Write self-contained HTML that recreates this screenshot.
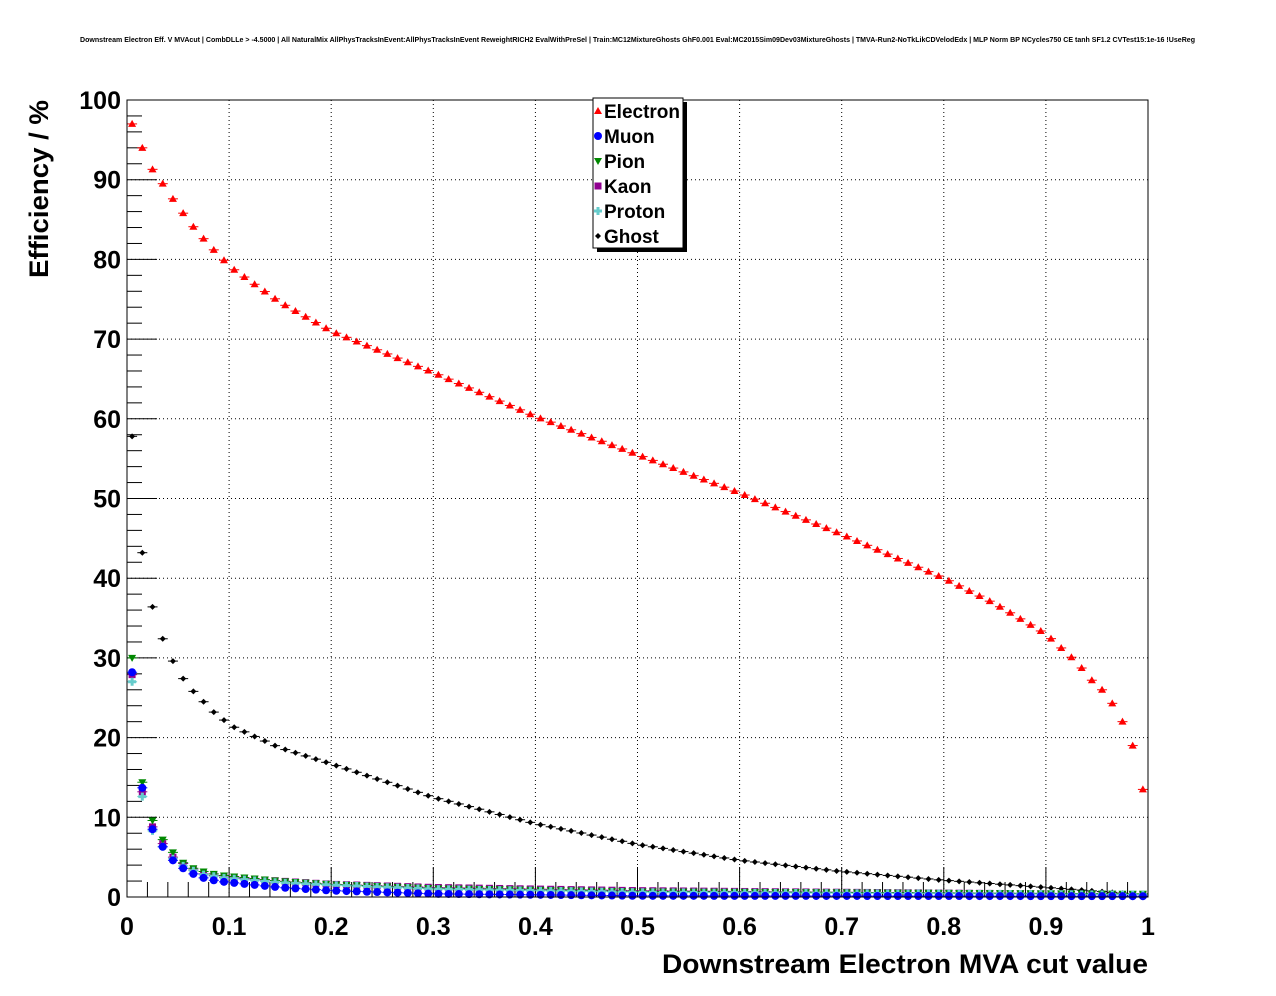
<!DOCTYPE html>
<html><head><meta charset="utf-8"><style>body{margin:0;background:#fff}svg{display:block}</style></head>
<body>
<svg id="s" width="1276" height="996" xmlns="http://www.w3.org/2000/svg" font-family="Liberation Sans, sans-serif">
<rect width="1276" height="996" fill="#fff"/>
<text x="80" y="42" font-size="7" font-weight="bold" textLength="1115" lengthAdjust="spacingAndGlyphs">Downstream Electron Eff. V MVAcut | CombDLLe &gt; -4.5000 | All NaturalMix AllPhysTracksInEvent:AllPhysTracksInEvent ReweightRICH2 EvalWithPreSel | Train:MC12MixtureGhosts GhF0.001 Eval:MC2015Sim09Dev03MixtureGhosts | TMVA-Run2-NoTkLikCDVelodEdx | MLP Norm BP NCycles750 CE tanh SF1.2 CVTest15:1e-16 !UseReg</text>
<g id="g"></g>
<rect x="127" y="100" width="1021" height="797" fill="none" stroke="#000" stroke-width="1"/>
<text x="1148" y="973" font-size="27" font-weight="bold" text-anchor="end" textLength="486" lengthAdjust="spacingAndGlyphs">Downstream Electron MVA cut value</text>
<text transform="translate(48,278) rotate(-90)" font-size="27" font-weight="bold" textLength="178" lengthAdjust="spacingAndGlyphs">Efficiency / %</text>
<rect x="597" y="102" width="90" height="150" fill="#000"/>
<rect x="593" y="98" width="90" height="150" fill="#fff" stroke="#000"/>
<g font-size="19" font-weight="bold">
<text x="604" y="118">Electron</text><text x="604" y="143">Muon</text><text x="604" y="168">Pion</text>
<text x="604" y="193">Kaon</text><text x="604" y="218">Proton</text><text x="604" y="243">Ghost</text>
</g>
<g id="lg"></g>
</svg>
<script>
const g=document.getElementById('g');let h='';
const X=v=>127+v*1021,Y=v=>897-v*7.97;
for(let i=1;i<10;i++){h+=`<line x1="${X(i/10)}" y1="100" x2="${X(i/10)}" y2="897" stroke="#000" stroke-dasharray="1,3"/>`;}
for(let i=1;i<10;i++){h+=`<line x1="127" y1="${Y(i*10)}" x2="1148" y2="${Y(i*10)}" stroke="#000" stroke-dasharray="1,3"/>`;}
for(let i=0;i<=50;i++){const l=i%5==0?30:15;h+=`<line x1="${X(i/50)}" y1="897" x2="${X(i/50)}" y2="${897-l}" stroke="#000"/>`;
 h+=`<line x1="127" y1="${Y(i*2)}" x2="${127+l}" y2="${Y(i*2)}" stroke="#000"/>`;}
for(let i=0;i<=10;i++){h+=`<text x="${X(i/10)}" y="935" font-size="25" font-weight="bold" text-anchor="middle">${i==0?'0':i==10?'1':'0.'+i}</text>`;
 h+=`<text x="121" y="${Y(i*10)+9}" font-size="25" font-weight="bold" text-anchor="end">${i*10}</text>`;}
function interp(pts,x){for(let i=0;i<pts.length-1;i++){if(x<=pts[i+1][0]){const t=(x-pts[i][0])/(pts[i+1][0]-pts[i][0]);return pts[i][1]+t*(pts[i+1][1]-pts[i][1]);}}return pts[pts.length-1][1];}
const E=[[.005,97],[.015,94],[.025,91.3],[.035,89.5],[.045,87.6],[.055,85.8],[.065,84.1],[.075,82.6],[.085,81.2],[.095,79.9],[.105,78.7],[.15,74.6],[.2,71],[.3,65.8],[.4,60.3],[.5,55.5],[.6,50.7],[.7,45.5],[.8,40],[.85,36.8],[.9,33],[.93,29.5],[.945,27.2],[.955,26],[.965,24.3],[.975,22],[.985,19],[.995,13.5]];
const G=[[.005,57.8],[.015,43.2],[.025,36.4],[.035,32.4],[.045,29.6],[.055,27.4],[.065,25.8],[.075,24.5],[.085,23.2],[.095,22.2],[.105,21.3],[.15,18.7],[.2,16.7],[.3,12.5],[.4,9.2],[.5,6.6],[.6,4.6],[.7,3.2],[.8,2.1],[.9,1.2],[.995,0.3]];
const M=[[.005,28.2],[.015,13.7],[.025,8.5],[.035,6.3],[.045,4.6],[.055,3.6],[.065,2.9],[.075,2.4],[.085,2.1],[.095,1.9],[.15,1.2],[.2,0.8],[.3,0.4],[.5,0.15],[.995,0.1]];
const P=[[.005,30],[.015,14.4],[.025,9.6],[.035,7.2],[.045,5.6],[.055,4.3],[.065,3.6],[.075,3.2],[.085,2.9],[.095,2.7],[.15,2],[.2,1.6],[.3,1.1],[.5,0.7],[.995,0.4]];
const K=[[.005,27.9],[.015,13.2],[.025,8.8],[.035,6.7],[.045,5.0],[.055,4.2],[.065,3.4],[.075,2.9],[.085,2.7],[.095,2.5],[.15,2],[.2,1.6],[.3,1.2],[.5,0.8],[.995,0.3]];
const R=[[.005,27],[.015,12.6],[.025,8.3],[.035,6.3],[.045,4.8],[.055,3.9],[.065,3.3],[.075,2.8],[.085,2.6],[.095,2.4],[.15,1.8],[.2,1.5],[.3,1.0],[.5,0.6],[.995,0.3]];
function mk(type,c,x,y){if(type=='tu')return `<path d="M${x-4},${y+3}L${x+4},${y+3}L${x},${y-4}Z" fill="${c}"/>`;
 if(type=='td')return `<path d="M${x-4},${y-3}L${x+4},${y-3}L${x},${y+4}Z" fill="${c}"/>`;
 if(type=='c')return `<circle cx="${x}" cy="${y}" r="4" fill="${c}"/>`;
 if(type=='s')return `<rect x="${x-3.5}" y="${y-3.5}" width="7" height="7" fill="${c}"/>`;
 if(type=='p')return `<path d="M${x-4},${y}H${x+4}M${x},${y-4}V${y+4}" stroke="${c}" stroke-width="3"/>`;
 return `<path d="M${x-3},${y}L${x},${y-3}L${x+3},${y}L${x},${y+3}Z" fill="${c}"/>`;}
function series(pts,c,t){for(let i=0;i<100;i++){const xv=i/100+.005;const x=X(xv),y=Y(interp(pts,xv));
 h+=`<line x1="${x-5}" y1="${y}" x2="${x+5}" y2="${y}" stroke="${c}"/>`+mk(t,c,x,y);}}
series(G,'#000','d');series(K,'#900090','s');series(P,'#008800','td');series(R,'#66cccc','p');series(M,'#0000ff','c');series(E,'#ff0000','tu');
g.innerHTML=h;
document.getElementById('lg').innerHTML=mk('tu','#f00',598,111)+mk('c','#00f',598,136)+mk('td','#080',598,161)+mk('s','#900090',598,186)+mk('p','#6cc',598,211)+mk('d','#000',598,236);
</script>
</body></html>
